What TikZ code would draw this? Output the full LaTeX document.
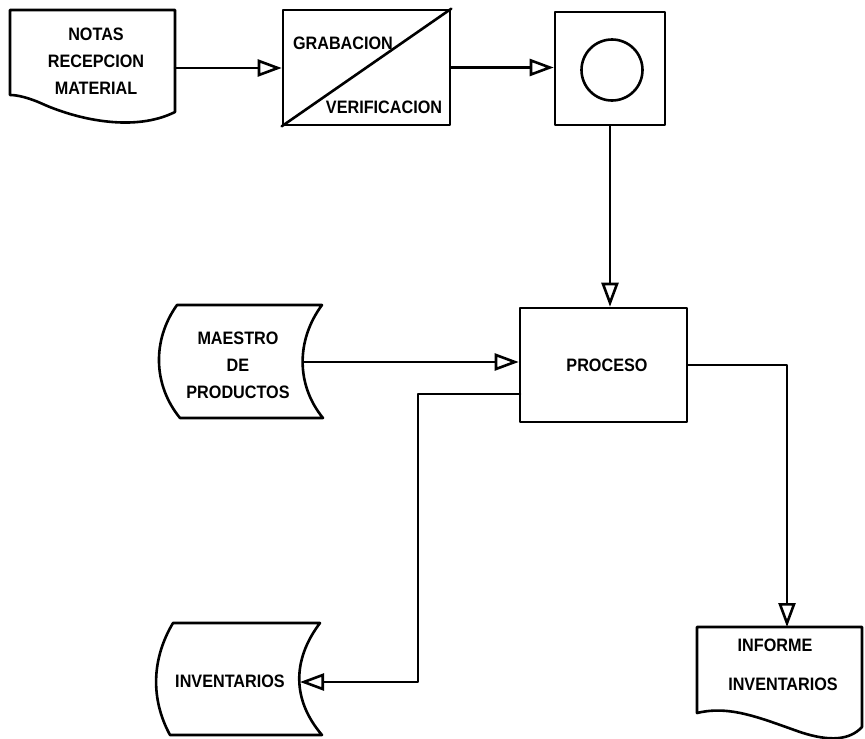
\documentclass[tikz,border=0pt]{standalone}
\usepackage{fontspec}
\setmainfont{Liberation Sans}
\newfontfamily\lblfont{Liberation Sans}[FakeStretch=0.9]
\usetikzlibrary{arrows.meta,calc}

\tikzset{
  line/.style={line width=2.6pt, line join=round, line cap=round},
  flow/.style={line, -{Triangle[open, length=24pt, width=17pt, line width=2.6pt]}},
  lbl/.style={font=\lblfont\bfseries\fontsize{18}{27}\selectfont, align=center, inner sep=0pt},
  box/.style={line, draw, rectangle, inner sep=0pt},
}

\begin{document}
\begin{tikzpicture}[x=1pt, y=-1pt]
  \useasboundingbox (0,0) rectangle (865,739);

  % --- document: NOTAS RECEPCION MATERIAL ---
  \draw[line] (10,95) -- (10,10) -- (175,10) -- (175,112)
    .. controls (135,132) and (80,120) .. (45,105)
    .. controls (30,98) and (18,95) .. (10,95) -- cycle;
  \node[lbl] (notas) at (96,61) {NOTAS\\RECEPCION\\MATERIAL};
  \coordinate (notasout) at (175,68);

  % --- recording / verification box ---
  \node[box, minimum width=167pt, minimum height=115pt] (grab) at (366.5,67.5) {};
  \draw[line] (grab.south west) -- (grab.north east);
  \node[lbl] (grabtxt) at (343,43) {GRABACION};
  \node[lbl] (veriftxt) at (384,107) {VERIFICACION};

  % --- box with circle ---
  \node[box, minimum width=110pt, minimum height=113pt] (cbox) at (610,68.5) {};
  \draw[line] (612,70) circle[radius=30.5];

  % --- process ---
  \node[box, minimum width=167pt, minimum height=114pt] (proceso) at (603.5,365) {};
  \node[lbl] (procesotxt) at (607,365) {PROCESO};

  % --- stored data: MAESTRO DE PRODUCTOS ---
  \draw[line] (177,305) -- (322,305)
    .. controls (296,340) and (296,385) .. (323,418)
    -- (180,418)
    .. controls (153,385) and (152,340) .. (177,305) -- cycle;
  \node[lbl] (maestro) at (238,365) {MAESTRO\\DE\\PRODUCTOS};
  \coordinate (maestroout) at (303,362);

  % --- stored data: INVENTARIOS ---
  \draw[line] (173,623) -- (320,623)
    .. controls (292,660) and (292,700) .. (322,735)
    -- (170,735)
    .. controls (151,700) and (151,660) .. (173,623) -- cycle;
  \node[lbl] (invent) at (230,681) {INVENTARIOS};
  \coordinate (inventin) at (300,682);

  % --- document: INFORME INVENTARIOS ---
  \draw[line] (697,713) -- (697,627) -- (862,627) -- (862,727)
    .. controls (850,740) and (830,742) .. (800,732)
    .. controls (760,718) and (730,705) .. (697,713) -- cycle;
  \node[lbl] (informe) at (775,645) {INFORME};
  \node[lbl] (informe2) at (783,684) {INVENTARIOS};
  \coordinate (informein) at (787,627);

  % --- connectors ---
  \draw[flow] (notasout) -- (notasout -| grab.west);
  \draw[flow] (grab.east) -- (grab.east -| cbox.west);
  \draw[flow] (cbox.south) -- (cbox.south |- proceso.north);
  \draw[flow] (maestroout) -- (maestroout -| proceso.west);

  \coordinate (pout) at (520,394);
  \coordinate (bendA) at (418,394);
  \coordinate (bendB) at (418,682);
  \draw[flow] (pout) -- (bendA) -- (bendB) -- (inventin);

  \coordinate (bendC) at (787,365);
  \draw[flow] (proceso.east) -- (bendC) -- (informein);
\end{tikzpicture}
\end{document}
